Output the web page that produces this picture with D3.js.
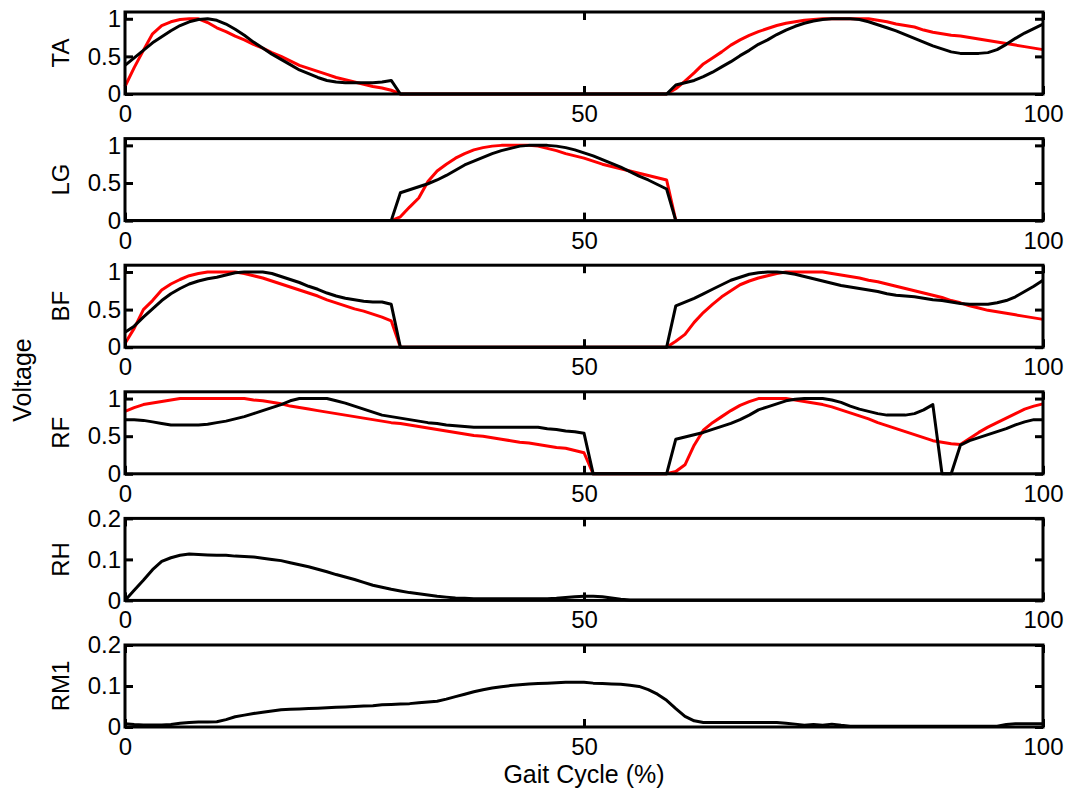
<!DOCTYPE html>
<html>
<head>
<meta charset="utf-8">
<script src="https://cdn.jsdelivr.net/npm/d3@7"></script>
<style>
body { margin: 0; background: #fff; }
text { font-family: "Liberation Sans", Arial, Helvetica, sans-serif; fill: #000; }
.tick line { stroke: #000; stroke-width: 3; }
</style>
</head>
<body>
<div id="chart"></div>
<script>
// gait cycle percent, one sample per 1%
var gait = d3.range(0, 101);

var muscles = ["TA", "LG", "BF", "RF", "RH", "RM1"];
var yMax = [1.09, 1.09, 1.09, 1.09, 0.2, 0.2];
var yTicks = [[0, 0.5, 1], [0, 0.5, 1], [0, 0.5, 1], [0, 0.5, 1], [0, 0.1, 0.2], [0, 0.1, 0.2]];
var xTicks = [0, 50, 100];

// red traces (reference)
var taRed = [0.10,0.35,0.58,0.80,0.91,0.96,0.99,1.00,1.00,0.95,0.88,0.83,0.77,0.72,0.66,0.61,0.55,0.50,0.44,0.38,
  0.34,0.30,0.26,0.22,0.19,0.16,0.13,0.10,0.08,0.05,0,0,0,0,0,0,0,0,0,0,
  0,0,0,0,0,0,0,0,0,0,0,0,0,0,0,0,0,0,0,0,
  0.07,0.17,0.28,0.40,0.48,0.56,0.65,0.72,0.78,0.83,0.87,0.91,0.94,0.96,0.98,0.99,1.00,1.00,1.00,1.00,
  1.00,1.00,0.98,0.96,0.93,0.91,0.89,0.85,0.82,0.80,0.78,0.77,0.75,0.73,0.71,0.69,0.67,0.65,0.63,0.61,0.59];
var lgRed = [0,0,0,0,0,0,0,0,0,0,0,0,0,0,0,0,0,0,0,0,
  0,0,0,0,0,0,0,0,0,0,0.05,0.18,0.30,0.52,0.66,0.75,0.83,0.89,0.94,0.97,
  0.99,1.00,1.00,1.00,1.00,0.99,0.96,0.93,0.89,0.86,0.83,0.79,0.75,0.72,0.69,0.66,0.63,0.60,0.57,0.54,
  0,0,0,0,0,0,0,0,0,0,0,0,0,0,0,0,0,0,0,0,
  0,0,0,0,0,0,0,0,0,0,0,0,0,0,0,0,0,0,0,0,0];
var bfRed = [0.05,0.25,0.50,0.62,0.76,0.84,0.90,0.95,0.98,1.00,1.00,1.00,1.00,0.98,0.95,0.92,0.88,0.84,0.80,0.76,
  0.72,0.68,0.63,0.59,0.55,0.51,0.48,0.44,0.40,0.35,0,0,0,0,0,0,0,0,0,0,
  0,0,0,0,0,0,0,0,0,0,0,0,0,0,0,0,0,0,0,0,
  0.08,0.17,0.33,0.46,0.57,0.67,0.75,0.83,0.88,0.92,0.95,0.98,1.00,1.00,1.00,1.00,1.00,0.98,0.96,0.94,
  0.92,0.89,0.87,0.84,0.81,0.78,0.75,0.72,0.69,0.66,0.62,0.59,0.55,0.52,0.49,0.47,0.45,0.43,0.41,0.39,0.37];
var rfRed = [0.83,0.88,0.92,0.94,0.96,0.98,1.00,1.00,1.00,1.00,1.00,1.00,1.00,1.00,0.98,0.97,0.95,0.93,0.90,0.88,
  0.86,0.84,0.82,0.80,0.78,0.76,0.74,0.72,0.70,0.68,0.67,0.65,0.63,0.61,0.59,0.57,0.55,0.53,0.51,0.50,
  0.48,0.46,0.44,0.42,0.41,0.39,0.37,0.35,0.34,0.31,0.28,0,0,0,0,0,0,0,0,0,
  0.03,0.12,0.38,0.58,0.68,0.76,0.84,0.91,0.96,1.00,1.00,1.00,1.00,0.98,0.96,0.94,0.92,0.89,0.85,0.81,
  0.77,0.73,0.68,0.64,0.60,0.56,0.52,0.48,0.44,0.42,0.40,0.39,0.47,0.55,0.62,0.68,0.74,0.80,0.86,0.90,0.93];

// black traces (measured)
var taBlack = [0.38,0.48,0.58,0.68,0.76,0.84,0.91,0.96,0.99,1.00,0.98,0.93,0.86,0.78,0.69,0.61,0.53,0.46,0.39,0.32,
  0.27,0.22,0.18,0.16,0.15,0.15,0.15,0.15,0.16,0.18,0,0,0,0,0,0,0,0,0,0,
  0,0,0,0,0,0,0,0,0,0,0,0,0,0,0,0,0,0,0,0,
  0.12,0.15,0.18,0.23,0.29,0.36,0.43,0.51,0.58,0.66,0.72,0.79,0.85,0.90,0.94,0.97,0.99,1.00,1.00,1.00,
  0.99,0.96,0.92,0.88,0.84,0.79,0.74,0.69,0.64,0.60,0.56,0.54,0.54,0.54,0.55,0.59,0.66,0.74,0.81,0.87,0.93];
var lgBlack = [0,0,0,0,0,0,0,0,0,0,0,0,0,0,0,0,0,0,0,0,
  0,0,0,0,0,0,0,0,0,0,0.37,0.41,0.45,0.49,0.54,0.60,0.67,0.74,0.79,0.84,
  0.89,0.93,0.96,0.99,1.00,1.00,1.00,0.99,0.97,0.94,0.90,0.86,0.81,0.76,0.71,0.65,0.59,0.54,0.48,0.42,
  0,0,0,0,0,0,0,0,0,0,0,0,0,0,0,0,0,0,0,0,
  0,0,0,0,0,0,0,0,0,0,0,0,0,0,0,0,0,0,0,0,0];
var bfBlack = [0.20,0.28,0.40,0.51,0.62,0.71,0.78,0.84,0.88,0.91,0.93,0.96,0.99,1.00,1.00,1.00,0.98,0.94,0.90,0.86,
  0.81,0.77,0.72,0.68,0.65,0.63,0.61,0.60,0.60,0.57,0,0,0,0,0,0,0,0,0,0,
  0,0,0,0,0,0,0,0,0,0,0,0,0,0,0,0,0,0,0,0,
  0.55,0.60,0.65,0.71,0.77,0.83,0.89,0.93,0.97,0.99,1.00,1.00,0.99,0.97,0.94,0.91,0.88,0.85,0.82,0.80,
  0.78,0.76,0.74,0.71,0.69,0.68,0.67,0.65,0.63,0.62,0.60,0.58,0.57,0.57,0.57,0.59,0.62,0.67,0.74,0.81,0.89];
var rfBlack = [0.72,0.72,0.71,0.69,0.67,0.65,0.65,0.65,0.65,0.66,0.68,0.70,0.73,0.76,0.80,0.84,0.88,0.92,0.97,1.00,
  1.00,1.00,1.00,0.97,0.94,0.90,0.86,0.82,0.78,0.76,0.74,0.72,0.70,0.68,0.67,0.65,0.64,0.63,0.62,0.62,
  0.62,0.62,0.62,0.62,0.62,0.62,0.60,0.59,0.57,0.56,0.54,0,0,0,0,0,0,0,0,0,
  0.46,0.49,0.52,0.55,0.59,0.63,0.67,0.72,0.78,0.85,0.89,0.93,0.97,0.99,1.00,1.00,1.00,0.98,0.95,0.90,
  0.86,0.83,0.80,0.78,0.78,0.78,0.80,0.85,0.92,0,0,0.38,0.44,0.48,0.52,0.56,0.60,0.65,0.69,0.72,0.72];
var rhBlack = [0.000,0.025,0.049,0.075,0.095,0.104,0.110,0.113,0.112,0.111,0.110,0.110,0.108,0.107,0.106,0.103,0.100,0.097,0.092,0.087,
  0.082,0.076,0.070,0.063,0.057,0.051,0.044,0.037,0.032,0.027,0.023,0.019,0.016,0.013,0.010,0.008,0.006,0.005,0.004,0.004,
  0.004,0.004,0.004,0.004,0.004,0.004,0.004,0.005,0.007,0.009,0.010,0.010,0.009,0.006,0.003,0.001,0.001,0.001,0.001,0.001,
  0.001,0.001,0.001,0.001,0.001,0.001,0.001,0.001,0.001,0.001,0.001,0.001,0.001,0.001,0.001,0.001,0.001,0.001,0.001,0.001,
  0.001,0.001,0.001,0.001,0.001,0.001,0.001,0.001,0.001,0.001,0.001,0.001,0.001,0.001,0.001,0.001,0.001,0.001,0.001,0.001,0.001];
var rm1Black = [0.008,0.006,0.005,0.005,0.005,0.006,0.009,0.011,0.012,0.012,0.013,0.018,0.025,0.029,0.033,0.036,0.039,0.042,0.043,0.044,
  0.045,0.046,0.047,0.048,0.049,0.050,0.051,0.052,0.054,0.055,0.056,0.057,0.059,0.061,0.063,0.068,0.074,0.080,0.086,0.091,
  0.095,0.098,0.101,0.103,0.105,0.106,0.107,0.108,0.109,0.109,0.109,0.107,0.106,0.105,0.104,0.102,0.099,0.091,0.080,0.065,
  0.045,0.026,0.015,0.011,0.011,0.011,0.011,0.011,0.011,0.011,0.011,0.011,0.009,0.007,0.004,0.006,0.004,0.007,0.004,0.002,
  0.002,0.002,0.002,0.002,0.002,0.002,0.002,0.002,0.002,0.002,0.002,0.002,0.002,0.002,0.002,0.002,0.006,0.008,0.008,0.008,0.008];

var redSeries = [taRed, lgRed, bfRed, rfRed, null, null];
var blackSeries = [taBlack, lgBlack, bfBlack, rfBlack, rhBlack, rm1Black];

var width = 1076, height = 791,
  left = 125, right = 1043,
  firstTop = 12, step = 126.6, panelH = 82,
  tickLen = 8, tickFont = 24, titleFont = 25;

var svg = d3.select("#chart").append("svg")
  .attr("width", width)
  .attr("height", height);

var x = d3.scaleLinear().domain([0, 100]).range([left, right]);

muscles.forEach(function(name, i) {
  var top = firstTop + i * step,
    bottom = top + panelH;

  var y = d3.scaleLinear().domain([0, yMax[i]]).range([bottom, top]);
  var g = svg.append("g").attr("class", "panel");

  var line = d3.line()
    .x(function(d, j) { return x(gait[j]); })
    .y(function(d) { return y(d); });

  if (redSeries[i]) {
    g.append("path")
      .attr("d", line(redSeries[i]))
      .attr("fill", "none")
      .attr("stroke", "#ff0000")
      .attr("stroke-width", 3)
      .attr("stroke-linejoin", "round");
  }
  g.append("path")
    .attr("d", line(blackSeries[i]))
    .attr("fill", "none")
    .attr("stroke", "#000")
    .attr("stroke-width", 3)
    .attr("stroke-linejoin", "round");

  // axes, ticks pointing inward
  var bottomAxis = g.append("g")
    .attr("transform", "translate(0," + bottom + ")")
    .call(d3.axisBottom(x).tickValues(xTicks).tickSizeInner(-tickLen).tickSizeOuter(0).tickPadding(11));
  bottomAxis.select(".domain").remove();
  bottomAxis.selectAll("text").attr("font-size", tickFont).attr("font-family", null);

  var topAxis = g.append("g")
    .attr("transform", "translate(0," + top + ")")
    .call(d3.axisTop(x).tickValues(xTicks).tickSizeInner(-tickLen).tickSizeOuter(0).tickFormat(""));
  topAxis.select(".domain").remove();

  var leftAxis = g.append("g")
    .attr("transform", "translate(" + left + ",0)")
    .call(d3.axisLeft(y).tickValues(yTicks[i]).tickSizeInner(-tickLen).tickSizeOuter(0).tickPadding(4)
      .tickFormat(function(d) { return String(d); }));
  leftAxis.select(".domain").remove();
  leftAxis.selectAll("text").attr("font-size", tickFont).attr("font-family", null);

  var rightAxis = g.append("g")
    .attr("transform", "translate(" + right + ",0)")
    .call(d3.axisRight(y).tickValues(yTicks[i]).tickSizeInner(-tickLen).tickSizeOuter(0).tickFormat(""));
  rightAxis.select(".domain").remove();

  g.append("rect")
    .attr("x", left)
    .attr("y", top)
    .attr("width", right - left)
    .attr("height", panelH)
    .attr("fill", "none")
    .attr("stroke", "#000")
    .attr("stroke-width", 3);

  g.append("text")
    .attr("transform", "translate(61," + (top + panelH / 2) + ") rotate(-90)")
    .attr("text-anchor", "middle")
    .attr("dy", "0.35em")
    .attr("font-size", tickFont)
    .text(name);
});

svg.append("text")
  .attr("transform", "translate(22,380) rotate(-90)")
  .attr("text-anchor", "middle")
  .attr("dy", "0.35em")
  .attr("font-size", titleFont)
  .text("Voltage");

svg.append("text")
  .attr("x", x(50))
  .attr("y", 783)
  .attr("text-anchor", "middle")
  .attr("font-size", titleFont)
  .text("Gait Cycle (%)");
</script>
</body>
</html>
